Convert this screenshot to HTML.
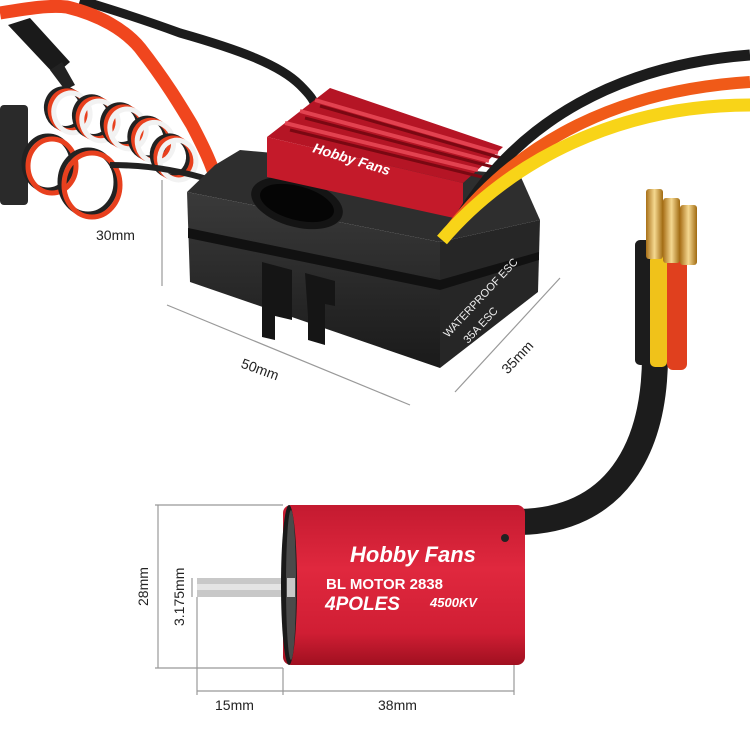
<!DOCTYPE html>
<html><head><meta charset="utf-8"><style>
html,body{margin:0;padding:0;background:#fff;}
svg{display:block;font-family:"Liberation Sans",sans-serif;}
</style></head><body>
<svg width="750" height="750" viewBox="0 0 750 750" xmlns="http://www.w3.org/2000/svg">
<defs>
<linearGradient id="red" x1="0" y1="0" x2="0" y2="1">
<stop offset="0" stop-color="#c41a30"/><stop offset="0.4" stop-color="#e0283e"/><stop offset="0.8" stop-color="#d01e34"/><stop offset="1" stop-color="#a01020"/></linearGradient>
<linearGradient id="gold" x1="0" y1="0" x2="1" y2="0">
<stop offset="0" stop-color="#a87018"/><stop offset="0.5" stop-color="#f5d890"/><stop offset="1" stop-color="#a06a10"/></linearGradient>
<linearGradient id="box" x1="0" y1="0" x2="0" y2="1">
<stop offset="0" stop-color="#3a3a3a"/><stop offset="1" stop-color="#1a1a1a"/></linearGradient>
<g id="loop">
<ellipse cx="0" cy="0" rx="18" ry="20" fill="none" stroke="#222" stroke-width="5"/>
<ellipse cx="3" cy="3" rx="18" ry="20" fill="none" stroke="#e8401e" stroke-width="5"/>
<ellipse cx="6" cy="6" rx="18" ry="20" fill="none" stroke="#f2f2f2" stroke-width="5"/>
</g>
</defs>
<rect width="750" height="750" fill="#fff"/>
<!-- top black wire -->
<path d="M80,0 C120,12 150,22 180,33 C240,50 280,65 300,85 C310,95 314,100 316,108" stroke="#1c1c1c" stroke-width="9" fill="none"/>
<!-- servo connector -->
<path d="M8,25 L30,18 L70,62 L55,75 Z" fill="#1a1a1a"/>
<path d="M50,70 L62,62 L75,85 L65,90Z" fill="#222"/>
<rect x="0" y="105" width="28" height="100" rx="4" fill="#2a2a2a"/>
<!-- servo coil -->
<g fill="none" stroke-width="5">
<ellipse cx="48" cy="163" rx="24" ry="27" stroke="#222"/>
<ellipse cx="52" cy="166" rx="24" ry="27" stroke="#e8401e"/>
<ellipse cx="88" cy="182" rx="28" ry="32" stroke="#222"/>
<ellipse cx="92" cy="185" rx="28" ry="32" stroke="#e8401e"/>
</g>
<g transform="rotate(-15 120 130)">
<use href="#loop" x="72" y="95"/>
<use href="#loop" x="97" y="110"/>
<use href="#loop" x="122" y="125"/>
<use href="#loop" x="145" y="145"/>
<use href="#loop" x="162" y="168"/>
</g>
<path d="M110,165 C150,165 185,172 210,180" stroke="#222" stroke-width="6" fill="none"/>
<!-- red wire -->
<path d="M0,13 C30,8 50,5 67,7 C100,15 125,30 140,48 C165,80 180,105 192,125 C205,150 212,165 216,180" stroke="#f0461e" stroke-width="13" fill="none"/>
<!-- ESC box -->
<polygon points="187,192 215,165 240,150 520,175 540,220 440,242" fill="#2e2e2e"/>
<polygon points="187,192 440,242 440,368 190,282" fill="url(#box)"/>
<polygon points="440,242 540,220 538,292 440,368" fill="#262626"/>
<polygon points="188,228 440,280 440,290 188,238" fill="#111"/>
<polygon points="440,280 539,252 539,260 440,290" fill="#111"/>
<polygon points="262,262 292,270 292,320 275,316 275,340 262,337" fill="#151515"/>
<polygon points="305,273 335,281 335,306 325,304 325,345 308,340 308,316" fill="#151515"/>
<ellipse cx="297" cy="203" rx="47" ry="24" transform="rotate(15 297 203)" fill="#141414"/>
<ellipse cx="297" cy="203" rx="38" ry="17" transform="rotate(15 297 203)" fill="#050505"/>
<!-- heatsink -->
<polygon points="267,137 330,88 503,147 463,183" fill="#b51525"/>
<polygon points="267,137 463,183 463,220 267,177" fill="#c41a2a"/>
<g stroke="#e24250" stroke-width="4">
<line x1="285" y1="123" x2="478" y2="170"/>
<line x1="300" y1="111" x2="489" y2="161"/>
<line x1="315" y1="100" x2="498" y2="153"/>
</g>
<g stroke="#7a0812" stroke-width="3">
<line x1="290" y1="130" x2="482" y2="177"/>
<line x1="305" y1="118" x2="493" y2="167"/>
<line x1="320" y1="106" x2="501" y2="158"/>
</g>
<text x="312" y="152" font-size="14" font-weight="bold" font-style="italic" fill="#fff" transform="rotate(17 312 152)">Hobby Fans</text>
<text x="448" y="338" font-size="11" fill="#eee" transform="rotate(-47 448 338)">WATERPROOF ESC</text>
<text x="468" y="344" font-size="11" fill="#eee" transform="rotate(-47 468 344)">35A ESC</text>
<!-- output wires -->
<path d="M462,215 C520,120 620,65 750,55" stroke="#1c1c1c" stroke-width="11" fill="none"/>
<path d="M452,228 C520,140 620,90 750,82" stroke="#f05a18" stroke-width="12" fill="none"/>
<path d="M442,240 C510,160 620,105 750,105" stroke="#f8d418" stroke-width="13" fill="none"/>
<!-- dims ESC -->
<g stroke="#999" stroke-width="1.2" fill="none">
<line x1="162" y1="180" x2="162" y2="286"/>
<line x1="167" y1="305" x2="410" y2="405"/>
<line x1="455" y1="392" x2="560" y2="278"/>
</g>
<g font-size="14" fill="#222">
<text x="96" y="240">30mm</text>
<text x="240" y="376" transform="rotate(20 265 372)">50mm</text>
<text x="496" y="372" transform="rotate(-47 505 360)">35mm</text>
</g>
<!-- motor cable -->
<path d="M655,355 C655,450 615,520 520,522" stroke="#1c1c1c" stroke-width="26" fill="none"/>
<rect x="635" y="240" width="18" height="125" rx="5" fill="#1c1c1c"/>
<rect x="650" y="255" width="17" height="112" rx="5" fill="#f0c21a"/>
<rect x="667" y="258" width="20" height="112" rx="6" fill="#e0401e"/>
<rect x="646" y="189" width="17" height="70" rx="3" fill="url(#gold)"/>
<rect x="663" y="198" width="17" height="65" rx="3" fill="url(#gold)"/>
<rect x="680" y="205" width="17" height="60" rx="3" fill="url(#gold)"/>
<!-- motor -->
<rect x="197" y="578" width="90" height="19" fill="#c8c8c8"/>
<rect x="197" y="584" width="90" height="6" fill="#e4e4e4"/>
<rect x="283" y="505" width="242" height="160" rx="8" fill="url(#red)"/>
<ellipse cx="289" cy="585" rx="8" ry="80" fill="#1a1a1a"/>
<ellipse cx="291" cy="585" rx="5" ry="75" fill="#4a4a4a"/>
<rect x="287" y="578" width="8" height="19" fill="#c8c8c8"/>
<circle cx="505" cy="538" r="4" fill="#222"/>
<text x="350" y="562" font-size="22" font-weight="bold" font-style="italic" fill="#fff">Hobby Fans</text>
<text x="326" y="589" font-size="15" font-weight="bold" fill="#fff">BL MOTOR 2838</text>
<text x="325" y="610" font-size="19" font-weight="bold" font-style="italic" fill="#fff">4POLES</text>
<text x="430" y="607" font-size="13" font-weight="bold" font-style="italic" fill="#fff">4500KV</text>
<!-- motor dims -->
<g stroke="#999" stroke-width="1.2" fill="none">
<line x1="158" y1="505" x2="158" y2="668"/>
<line x1="155" y1="505" x2="283" y2="505"/>
<line x1="155" y1="668" x2="283" y2="668"/>
<line x1="197" y1="691" x2="514" y2="691"/>
<line x1="197" y1="597" x2="197" y2="695"/>
<line x1="283" y1="668" x2="283" y2="695"/>
<line x1="514" y1="665" x2="514" y2="695"/>
<line x1="192" y1="578" x2="192" y2="597"/>
</g>
<g font-size="14" fill="#222">
<text x="148" y="606" transform="rotate(-90 148 606)">28mm</text>
<text x="184" y="626" transform="rotate(-90 184 626)">3.175mm</text>
<text x="215" y="710">15mm</text>
<text x="378" y="710">38mm</text>
</g>
</svg>
</body></html>
